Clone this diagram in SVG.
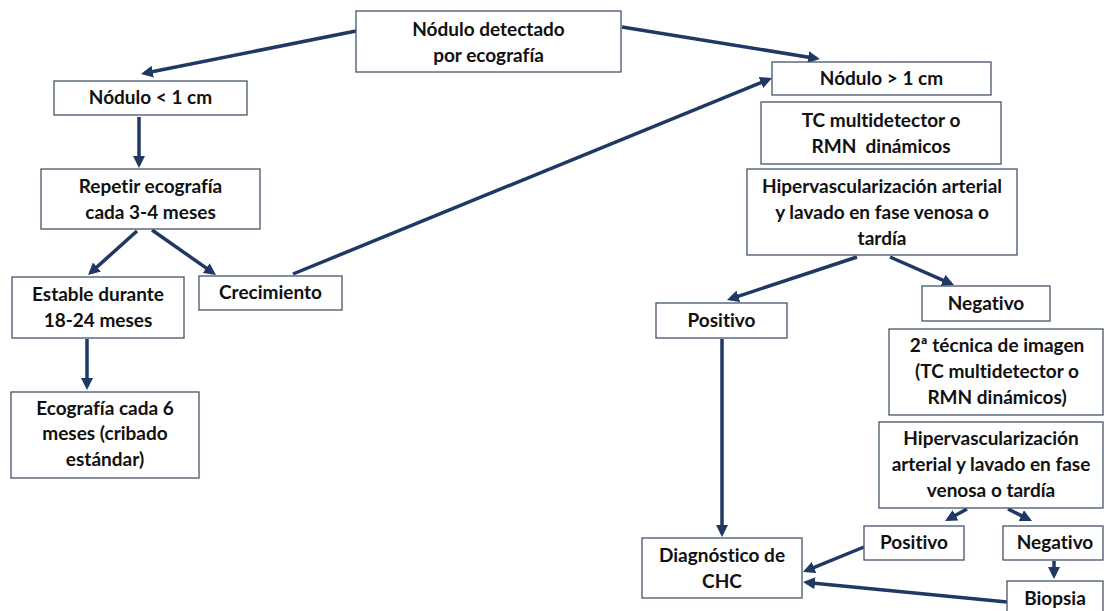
<svg xmlns="http://www.w3.org/2000/svg" width="1104" height="611" viewBox="0 0 1104 611">
<style>
.box{fill:#fff;stroke:#44546a;stroke-width:1.3}
.t{font-family:Lato,"Open Sans","Liberation Sans",sans-serif;font-weight:bold;font-size:19px;fill:#111;text-anchor:middle;font-variant-ligatures:none}
.c{fill:none;stroke:#1f3864;stroke-width:3.5;marker-end:url(#ah)}
</style>
<defs>
<marker id="ah" viewBox="0 0 10 10" refX="7" refY="5" markerWidth="12" markerHeight="12" markerUnits="userSpaceOnUse" orient="auto">
<path d="M0,0 L10,5 L0,10 z" fill="#1f3864"/>
</marker>
</defs>
<rect width="1104" height="611" fill="#fff"/>
<g id="connectors">
<line class="c" x1="356" y1="31" x2="144.5" y2="73.3"/>
<line class="c" x1="622" y1="27" x2="816.4" y2="58.4"/>
<line class="c" x1="139" y1="117" x2="139" y2="164.4"/>
<line class="c" x1="137" y1="231" x2="90.7" y2="272.6"/>
<line class="c" x1="152" y1="230" x2="213.1" y2="272.9"/>
<line class="c" x1="293" y1="274" x2="768.7" y2="79.4"/>
<line class="c" x1="87" y1="339" x2="87" y2="386.4"/>
<line class="c" x1="857" y1="257" x2="730.4" y2="298.9"/>
<line class="c" x1="890" y1="257" x2="950.7" y2="283.6"/>
<line class="c" x1="722" y1="339" x2="722" y2="533.4"/>
<line class="c" x1="967" y1="509" x2="948.2" y2="519.3"/>
<line class="c" x1="1008" y1="509" x2="1028.8" y2="519.4"/>
<line class="c" x1="1054" y1="561" x2="1054" y2="575.4"/>
<line class="c" x1="864" y1="547" x2="806.3" y2="570.6"/>
<line class="c" x1="1007" y1="602" x2="806.6" y2="582.4"/>
</g>
<g id="n1"><rect class="box" x="356" y="11" width="265" height="61"/><text class="t" x="488.5" y="36">Nódulo detectado</text><text class="t" x="488.5" y="62">por ecografía</text></g>
<g id="n2"><rect class="box" x="54" y="81" width="193" height="34"/><text class="t" x="150.5" y="104">Nódulo &lt; 1 cm</text></g>
<g id="n3"><rect class="box" x="772" y="62" width="219" height="33"/><text class="t" x="881.5" y="85">Nódulo &gt; 1 cm</text></g>
<g id="n4"><rect class="box" x="761" y="102" width="240" height="62"/><text class="t" x="881" y="127">TC multidetector o</text><text class="t" x="881" y="153" xml:space="preserve">RMN  dinámicos</text></g>
<g id="n5"><rect class="box" x="747" y="169" width="270" height="86"/><text class="t" x="882" y="193">Hipervascularización arterial</text><text class="t" x="882" y="219">y lavado en fase venosa o</text><text class="t" x="882" y="245">tardía</text></g>
<g id="n6"><rect class="box" x="41" y="169" width="219" height="60"/><text class="t" x="150.5" y="193">Repetir ecografía</text><text class="t" x="150.5" y="219">cada 3-4 meses</text></g>
<g id="n7"><rect class="box" x="12" y="277" width="172" height="61"/><text class="t" x="98" y="301">Estable durante</text><text class="t" x="98" y="327">18-24 meses</text></g>
<g id="n8"><rect class="box" x="199" y="276" width="143" height="34"/><text class="t" x="270.5" y="299">Crecimiento</text></g>
<g id="n9"><rect class="box" x="11" y="392" width="188" height="86"/><text class="t" x="105" y="415">Ecografía cada 6</text><text class="t" x="105" y="440">meses (cribado</text><text class="t" x="105" y="466">estándar)</text></g>
<g id="n10"><rect class="box" x="656" y="303" width="131" height="35"/><text class="t" x="721.5" y="327">Positivo</text></g>
<g id="n11"><rect class="box" x="922" y="286" width="128" height="35"/><text class="t" x="986" y="310">Negativo</text></g>
<g id="n12"><rect class="box" x="889" y="329" width="214" height="86"/><text class="t" x="997" y="352">2ª técnica de imagen</text><text class="t" x="997" y="378">(TC multidetector o</text><text class="t" x="997" y="404">RMN dinámicos)</text></g>
<g id="n13"><rect class="box" x="879" y="422" width="224" height="86"/><text class="t" x="991" y="445">Hipervascularización</text><text class="t" x="991" y="471">arterial y lavado en fase</text><text class="t" x="991" y="497">venosa o tardía</text></g>
<g id="n14"><rect class="box" x="864" y="526" width="100" height="34"/><text class="t" x="914" y="549">Positivo</text></g>
<g id="n15"><rect class="box" x="1003" y="526" width="100" height="34"/><text class="t" x="1055" y="549">Negativo</text></g>
<g id="n16"><rect class="box" x="1007" y="581" width="96" height="36"/><text class="t" x="1055" y="605">Biopsia</text></g>
<g id="n17"><rect class="box" x="642" y="538" width="160" height="60"/><text class="t" x="722" y="562">Diagnóstico de</text><text class="t" x="722" y="588">CHC</text></g>
</svg>
